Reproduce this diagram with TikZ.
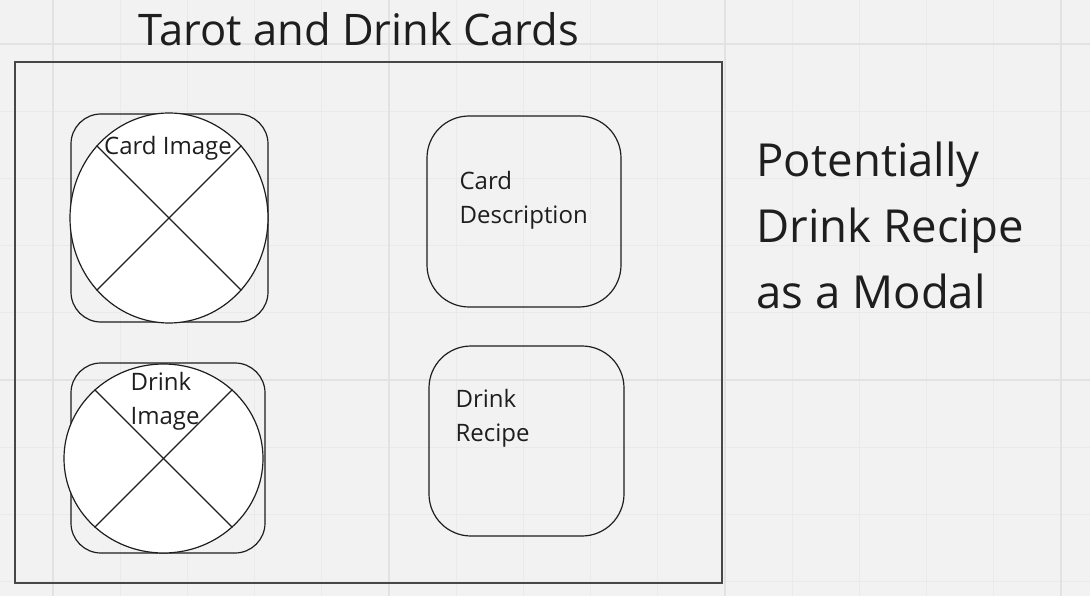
\documentclass[tikz,border=0pt]{standalone}
\usepackage{fontspec}
\setmainfont{Open Sans}
\usetikzlibrary{shapes.geometric,positioning}
\definecolor{canvas}{HTML}{F2F2F2}
\definecolor{gridminor}{HTML}{EAEAEA}
\definecolor{gridmajor}{HTML}{E2E2E2}
\definecolor{ink}{HTML}{1E1E1E}
\definecolor{framegray}{HTML}{474747}

\begin{document}
\begin{tikzpicture}[x=1pt, y=-1pt, line width=1.2pt,
  frame/.style={draw=framegray, line width=1.3pt, inner sep=0pt},
  imgbox/.style={draw=ink, rounded corners=30pt, inner sep=0pt},
  textbox/.style={draw=ink, rounded corners=42pt, inner sep=0pt},
  photo/.style={draw=ink, fill=white, ellipse, inner sep=0pt},
  label/.style={text=ink, inner sep=0pt, align=left, font=\fontsize{24}{34}\selectfont}]
  % canvas and grid
  \fill[canvas] (0,0) rectangle (1090,596);
  \useasboundingbox (0,0) rectangle (1090,596);
  \foreach \i in {0,...,16}
    \draw[gridminor, line width=1pt] ({-14.2+67.2*\i},0) -- ({-14.2+67.2*\i},596);
  \foreach \j in {0,...,8}
    \draw[gridminor, line width=1pt] (0,{44+67.2*\j}) -- (1090,{44+67.2*\j});
  \foreach \x in {53,389,725,1061}
    \draw[gridmajor, line width=1.4pt] (\x,0) -- (\x,596);
  \foreach \y in {44,380}
    \draw[gridmajor, line width=1.4pt] (0,\y) -- (1090,\y);
  % title and screen frame
  \node[anchor=base west, inner sep=0pt, text=ink, font=\fontsize{43.5}{50}\selectfont] (title) at (138,46) {Tarot and Drink Cards};
  \node[frame, minimum width=707pt, minimum height=521pt] (screen) at (368.5,322.5) {};
  % card image
  \node[imgbox, minimum width=197pt, minimum height=208pt] (cardbox) at (169.5,218) {};
  \node[photo, minimum width=198pt, minimum height=210pt] (cardimg) at (169,218) {};
  \draw[ink] (cardimg.135) -- (cardimg.-45);
  \draw[ink] (cardimg.45) -- (cardimg.-135);
  \node[label, anchor=base] (cardimgtext) at (168,155) {Card Image};
  % drink image
  \node[imgbox, minimum width=194pt, minimum height=190pt] (drinkbox) at (168,458) {};
  \node[photo, minimum width=199pt, minimum height=189pt] (drinkimg) at (163.5,458.5) {};
  \draw[ink] (drinkimg.135) -- (drinkimg.-45);
  \draw[ink] (drinkimg.45) -- (drinkimg.-135);
  \node[label, anchor=base west] (drinkimgtext) at (130,424) {Drink\\Image};
  % description and recipe
  \node[textbox, minimum width=194pt, minimum height=191pt] (descbox) at (524,211.5) {};
  \node[label, anchor=base west] (desctext) at (459,224) {Card\\Description};
  \node[textbox, minimum width=195pt, minimum height=190pt] (recipebox) at (526.5,441) {};
  \node[label, anchor=base west] (recipetext) at (455,441) {Drink\\Recipe};
  % side note
  \node[anchor=base west, inner sep=0pt, text=ink, align=left, font=\fontsize{45.5}{66}\selectfont] (note) at (756,308) {Potentially\\Drink Recipe\\as a Modal};
\end{tikzpicture}
\end{document}
